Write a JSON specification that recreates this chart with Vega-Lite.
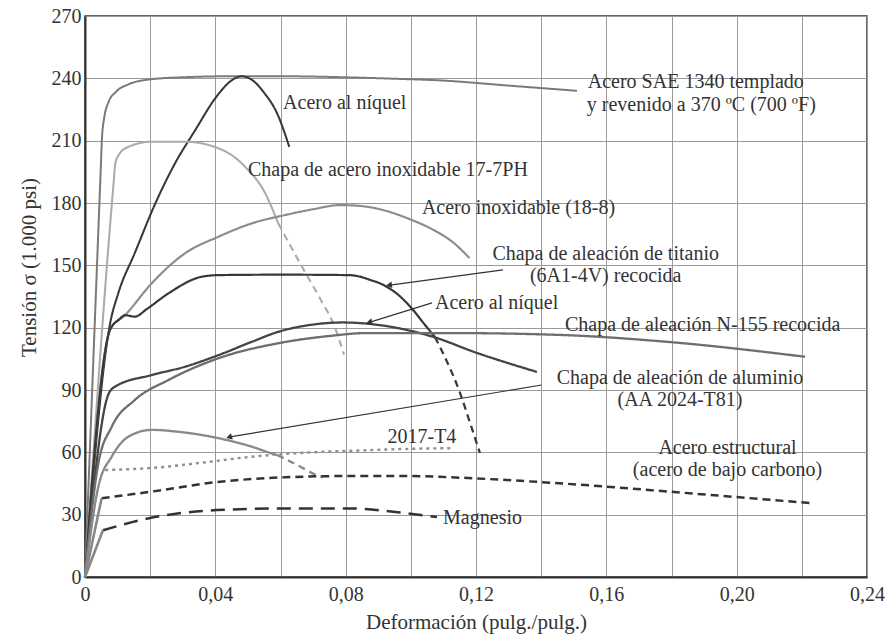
{
  "$schema": "https://vega.github.io/schema/vega-lite/v6.json",
  "width": 782,
  "height": 561,
  "autosize": {"type": "none"},
  "padding": {"left": 85, "top": 16, "right": 22, "bottom": 60},
  "background": "white",
  "config": {
    "view": {"stroke": "#333", "strokeWidth": 1.5},
    "font": "Liberation Serif"
  },
  "datasets": {
    "curves": [
      {"s":"SAE","x":0,"y":0},{"s":"SAE","x":0.0048,"y":195},{"s":"SAE","x":0.0052,"y":211},{"s":"SAE","x":0.0059,"y":221},{"s":"SAE","x":0.0072,"y":228.5},{"s":"SAE","x":0.0095,"y":233.5},{"s":"SAE","x":0.0135,"y":237.2},{"s":"SAE","x":0.02,"y":239.5},{"s":"SAE","x":0.03,"y":240.5},{"s":"SAE","x":0.045,"y":241},{"s":"SAE","x":0.06,"y":241},{"s":"SAE","x":0.08,"y":240.5},{"s":"SAE","x":0.095,"y":239.8},{"s":"SAE","x":0.109,"y":239},{"s":"SAE","x":0.13,"y":236.5},{"s":"SAE","x":0.151,"y":234},
      {"s":"NiHi","x":0,"y":0},{"s":"NiHi","x":0.0077,"y":122},{"s":"NiHi","x":0.0102,"y":136.5},{"s":"NiHi","x":0.0153,"y":156},{"s":"NiHi","x":0.0215,"y":179.5},{"s":"NiHi","x":0.0276,"y":199},{"s":"NiHi","x":0.0338,"y":215},{"s":"NiHi","x":0.0405,"y":231.5},{"s":"NiHi","x":0.045,"y":239},{"s":"NiHi","x":0.048,"y":241},{"s":"NiHi","x":0.051,"y":239.5},{"s":"NiHi","x":0.055,"y":233},{"s":"NiHi","x":0.059,"y":223},{"s":"NiHi","x":0.0627,"y":207},
      {"s":"PH","x":0,"y":0},{"s":"PH","x":0.0088,"y":190},{"s":"PH","x":0.0093,"y":199},{"s":"PH","x":0.0105,"y":203.5},{"s":"PH","x":0.0133,"y":207},{"s":"PH","x":0.0205,"y":209.5},{"s":"PH","x":0.0307,"y":209.5},{"s":"PH","x":0.041,"y":206.3},{"s":"PH","x":0.0455,"y":202.5},{"s":"PH","x":0.0491,"y":197.5},{"s":"PH","x":0.0553,"y":184.7},{"s":"PH","x":0.0593,"y":170.2},
      {"s":"PHd","x":0.0593,"y":170.2},{"s":"PHd","x":0.066,"y":151},{"s":"PHd","x":0.0725,"y":133},{"s":"PHd","x":0.0762,"y":122},{"s":"PHd","x":0.0795,"y":107},
      {"s":"SS","x":0,"y":0},{"s":"SS","x":0.0077,"y":119},{"s":"SS","x":0.0123,"y":126},{"s":"SS","x":0.0205,"y":141.4},{"s":"SS","x":0.0307,"y":155.8},{"s":"SS","x":0.041,"y":163.8},{"s":"SS","x":0.0512,"y":170.2},{"s":"SS","x":0.0614,"y":174.2},{"s":"SS","x":0.07,"y":177},{"s":"SS","x":0.0783,"y":179},{"s":"SS","x":0.085,"y":178.5},{"s":"SS","x":0.0915,"y":176.6},{"s":"SS","x":0.1,"y":172},{"s":"SS","x":0.107,"y":167},{"s":"SS","x":0.113,"y":161},{"s":"SS","x":0.118,"y":153.5},
      {"s":"Ti","x":0,"y":0},{"s":"Ti","x":0.0077,"y":119},{"s":"Ti","x":0.0105,"y":124},{"s":"Ti","x":0.0123,"y":126},{"s":"Ti","x":0.0153,"y":125.3},{"s":"Ti","x":0.019,"y":129},{"s":"Ti","x":0.0256,"y":136.5},{"s":"Ti","x":0.0358,"y":144.5},{"s":"Ti","x":0.041,"y":145.3},{"s":"Ti","x":0.06,"y":145.5},{"s":"Ti","x":0.081,"y":145.3},{"s":"Ti","x":0.085,"y":144.3},{"s":"Ti","x":0.0875,"y":143},{"s":"Ti","x":0.091,"y":141},{"s":"Ti","x":0.096,"y":136},{"s":"Ti","x":0.1007,"y":128.5},{"s":"Ti","x":0.104,"y":122},{"s":"Ti","x":0.1074,"y":115.5},
      {"s":"Tid","x":0.1074,"y":115.5},{"s":"Tid","x":0.111,"y":104},{"s":"Tid","x":0.1151,"y":88.6},{"s":"Tid","x":0.118,"y":75},{"s":"Tid","x":0.1212,"y":59.7},
      {"s":"NiLo","x":0,"y":0},{"s":"NiLo","x":0.0072,"y":88},{"s":"NiLo","x":0.0092,"y":91.6},{"s":"NiLo","x":0.0205,"y":97.2},{"s":"NiLo","x":0.0307,"y":101.2},{"s":"NiLo","x":0.041,"y":106.8},{"s":"NiLo","x":0.0512,"y":113.2},{"s":"NiLo","x":0.0593,"y":118},{"s":"NiLo","x":0.07,"y":121.5},{"s":"NiLo","x":0.079,"y":122.5},{"s":"NiLo","x":0.0915,"y":121},{"s":"NiLo","x":0.107,"y":115.5},{"s":"NiLo","x":0.12,"y":108},{"s":"NiLo","x":0.1387,"y":98.7},
      {"s":"N155","x":0,"y":0},{"s":"N155","x":0.0041,"y":54.7},{"s":"N155","x":0.0082,"y":72.3},{"s":"N155","x":0.0153,"y":85.2},{"s":"N155","x":0.0256,"y":94.8},{"s":"N155","x":0.041,"y":105.3},{"s":"N155","x":0.0593,"y":112.5},{"s":"N155","x":0.075,"y":116},{"s":"N155","x":0.0865,"y":117.4},{"s":"N155","x":0.112,"y":117.4},{"s":"N155","x":0.1458,"y":116.5},{"s":"N155","x":0.18,"y":113},{"s":"N155","x":0.221,"y":106},
      {"s":"Al","x":0,"y":0},{"s":"Al","x":0.0041,"y":43.5},{"s":"Al","x":0.0082,"y":57.9},{"s":"Al","x":0.0133,"y":67.5},{"s":"Al","x":0.0205,"y":70.8},{"s":"Al","x":0.0286,"y":69.9},{"s":"Al","x":0.041,"y":66.8},{"s":"Al","x":0.0512,"y":62.7},{"s":"Al","x":0.0573,"y":59.5},{"s":"Al","x":0.059,"y":58.7},
      {"s":"Ald","x":0.059,"y":58.7},{"s":"Ald","x":0.065,"y":54},{"s":"Ald","x":0.0712,"y":49},{"s":"Ald","x":0.073,"y":48},
      {"s":"T4","x":0.0062,"y":51.5},{"s":"T4","x":0.02,"y":52.4},{"s":"T4","x":0.0353,"y":54.9},{"s":"T4","x":0.0506,"y":57.8},{"s":"T4","x":0.066,"y":59.7},{"s":"T4","x":0.0865,"y":61},{"s":"T4","x":0.1,"y":61.7},{"s":"T4","x":0.113,"y":62},
      {"s":"St","x":0.0051,"y":37.9},{"s":"St","x":0.02,"y":41},{"s":"St","x":0.0405,"y":45.7},{"s":"St","x":0.0614,"y":48},{"s":"St","x":0.0813,"y":48.6},{"s":"St","x":0.1,"y":48.6},{"s":"St","x":0.112,"y":48},{"s":"St","x":0.1397,"y":45.7},{"s":"St","x":0.16,"y":43.5},{"s":"St","x":0.18,"y":41},{"s":"St","x":0.2225,"y":35.6},
      {"s":"Mg","x":0.0055,"y":22.5},{"s":"Mg","x":0.02,"y":28.4},{"s":"Mg","x":0.0405,"y":32.2},{"s":"Mg","x":0.0614,"y":33},{"s":"Mg","x":0.0813,"y":33},{"s":"Mg","x":0.0967,"y":31},{"s":"Mg","x":0.108,"y":28.9},
      {"s":"eSt","x":0,"y":0},{"s":"eSt","x":0.0051,"y":37.9},
      {"s":"eMg","x":0,"y":0},{"s":"eMg","x":0.0055,"y":22.5}
    ],
    "leaders": [
      {"n":"Ti","x":0.0936,"y":140.5,"x2":0.1283,"y2":147.8},
      {"n":"NiLo","x":0.0875,"y":122.7,"x2":0.1065,"y2":131.9},
      {"n":"Al","x":0.0445,"y":67.4,"x2":0.1401,"y2":92.4}
    ],
    "labels_left": [
      {"t":"Acero al níquel","x":0.0608,"y":228},
      {"t":"Acero SAE 1340 templado","x":0.1543,"y":238},
      {"t":"y revenido a 370 ºC (700 ºF)","x":0.154,"y":227.4},
      {"t":"Chapa de acero inoxidable 17-7PH","x":0.050,"y":195.9},
      {"t":"Acero inoxidable (18-8)","x":0.1034,"y":177.6},
      {"t":"Acero al níquel","x":0.1074,"y":131.7},
      {"t":"Chapa de aleación N-155 recocida","x":0.1473,"y":121.3},
      {"t":"Magnesio","x":0.1099,"y":28.4}
    ],
    "labels_center": [
      {"t":"Chapa de aleación de titanio","x":0.1598,"y":155.3},
      {"t":"(6A1-4V) recocida","x":0.1598,"y":144.7},
      {"t":"Chapa de aleación de aluminio","x":0.1826,"y":95.8},
      {"t":"(AA 2024-T81)","x":0.1826,"y":85.3},
      {"t":"2017-T4","x":0.1034,"y":67.4},
      {"t":"Acero estructural","x":0.1972,"y":61.9},
      {"t":"(acero de bajo carbono)","x":0.1972,"y":51.3}
    ]
  },
  "encoding": {
    "x": {
      "field": "x", "type": "quantitative",
      "scale": {"domain": [0, 0.24], "nice": false, "zero": false},
      "axis": {
        "values": [0,0.02,0.04,0.06,0.08,0.1,0.12,0.14,0.16,0.18,0.2,0.22,0.24],
        "labelExpr": "datum.value == 0 ? '0' : (round(datum.value*100) % 4 == 0 ? replace(format(datum.value, '.2f'), '.', ',') : '')",
        "grid": true, "gridColor": "#9a9a9a", "gridWidth": 1,
        "ticks": false, "domainColor": "#333", "domainWidth": 2,
        "labelFont": "Liberation Serif", "labelFontSize": 20, "labelColor": "#333",
        "labelPadding": 7, "labelOverlap": false, "labelFlush": false,
        "title": "Deformación (pulg./pulg.)", "titleFont": "Liberation Serif",
        "titleFontSize": 21, "titleFontWeight": "normal", "titleColor": "#333", "titlePadding": 7
      }
    },
    "y": {
      "field": "y", "type": "quantitative",
      "scale": {"domain": [0, 270], "nice": false},
      "axis": {
        "values": [0,30,60,90,120,150,180,210,240,270],
        "grid": true, "gridColor": "#9a9a9a", "gridWidth": 1,
        "ticks": false, "domainColor": "#333", "domainWidth": 2,
        "labelFont": "Liberation Serif", "labelFontSize": 20, "labelColor": "#333",
        "labelPadding": 4,
        "title": "Tensión σ (1.000 psi)", "titleFont": "Liberation Serif",
        "titleFontSize": 21, "titleFontWeight": "normal", "titleColor": "#333",
        "titlePadding": 12, "titleY": 251
      }
    }
  },
  "layer": [
    {
      "data": {"name": "curves"},
      "mark": {"type": "line", "interpolate": "monotone", "strokeCap": "butt", "strokeJoin": "round"},
      "encoding": {
        "detail": {"field": "s"},
        "color": {"field": "s", "type": "nominal", "legend": null,
          "scale": {"domain": ["SAE","NiHi","PH","PHd","SS","Ti","Tid","NiLo","N155","Al","Ald","T4","St","Mg","eSt","eMg"],
                    "range": ["#7a7a7a","#383838","#ababab","#ababab","#8c8c8c","#383838","#383838","#444444","#6e6e6e","#8a8a8a","#8a8a8a","#8f8f8f","#333333","#333333","#888888","#888888"]}},
        "strokeDash": {"field": "s", "type": "nominal", "legend": null,
          "scale": {"domain": ["SAE","NiHi","PH","PHd","SS","Ti","Tid","NiLo","N155","Al","Ald","T4","St","Mg","eSt","eMg"],
                    "range": [[1,0],[1,0],[1,0],[7,5],[1,0],[1,0],[7,5],[1,0],[1,0],[1,0],[7,5],[3,4],[8,5],[14,8],[1,0],[1,0]]}},
        "strokeWidth": {"field": "s", "type": "ordinal", "legend": null,
          "scale": {"domain": ["SAE","NiHi","PH","PHd","SS","Ti","Tid","NiLo","N155","Al","Ald","T4","St","Mg","eSt","eMg"],
                    "range": [2,2.6,2,2,2,2.6,2.6,2.6,2,2,2,1.8,2.6,2.6,1.5,1.5]}}
      }
    },
    {
      "data": {"name": "leaders"},
      "mark": {"type": "rule", "color": "#333", "strokeWidth": 1.2},
      "encoding": {"x2": {"field": "x2"}, "y2": {"field": "y2"}}
    },
    {
      "data": {"name": "leaders"},
      "mark": {"type": "point", "shape": "triangle", "filled": true, "color": "#333", "size": 45, "opacity": 1},
      "encoding": {
        "angle": {"field": "n", "type": "nominal", "legend": null,
          "scale": {"domain": ["Ti","NiLo","Al"], "range": [262,253,260.5]}}
      }
    },
    {
      "data": {"name": "labels_left"},
      "mark": {"type": "text", "align": "left", "baseline": "middle", "font": "Liberation Serif", "fontSize": 20, "color": "#333"},
      "encoding": {"text": {"field": "t"}}
    },
    {
      "data": {"name": "labels_center"},
      "mark": {"type": "text", "align": "center", "baseline": "middle", "font": "Liberation Serif", "fontSize": 20, "color": "#333"},
      "encoding": {"text": {"field": "t"}}
    }
  ]
}
